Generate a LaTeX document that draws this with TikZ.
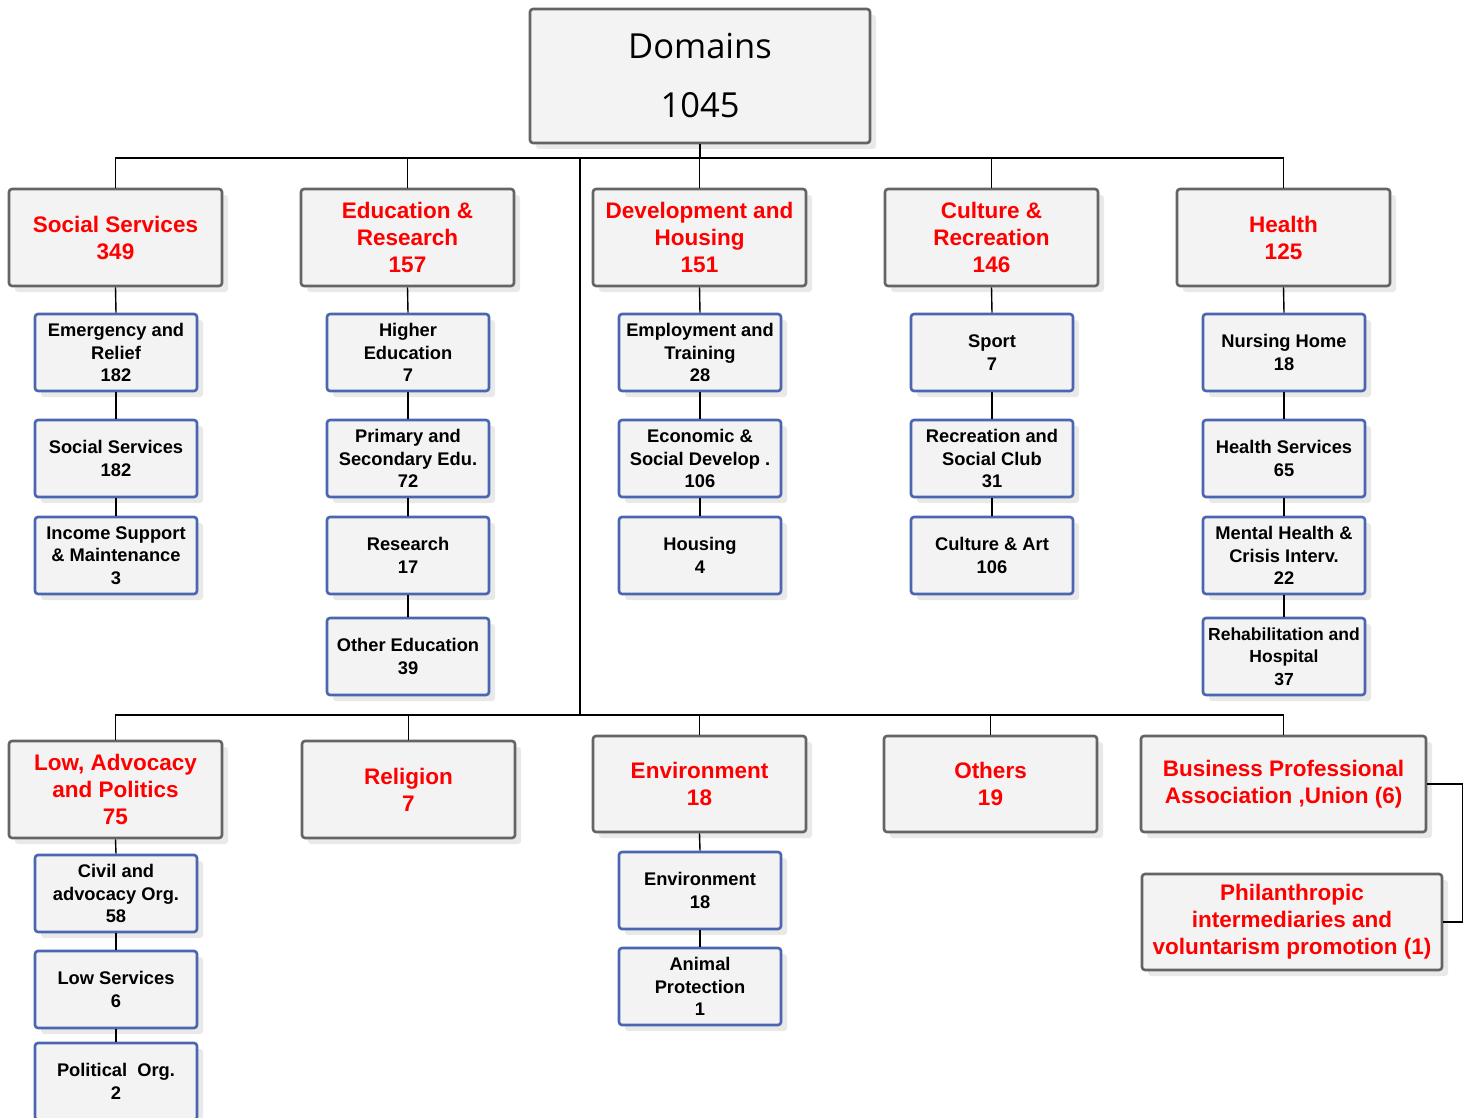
\documentclass[tikz,border=0pt]{standalone}
\usepackage{fontspec}
\setmainfont{Liberation Sans}
\newfontfamily\domfont{Open Sans}
\definecolor{catgray}{HTML}{646464}
\definecolor{subblue}{HTML}{4A66B0}
\definecolor{boxfill}{HTML}{F3F3F3}
\definecolor{shadowc}{HTML}{E9E9E9}
\definecolor{redtxt}{HTML}{FF0000}
\begin{document}
\begin{tikzpicture}[x=1pt,y=-1pt,
  basebox/.style={rectangle, rounded corners=3pt, fill=boxfill, line width=2.6pt, align=center, inner sep=1pt,
     preaction={fill=shadowc, rounded corners=3pt, draw=none, transform canvas={shift={(6pt,-6pt)}}}},
  catbox/.style={basebox, draw=catgray, text=redtxt, font=\bfseries\fontsize{22.5}{27}\selectfont,
     minimum width=213pt, minimum height=97pt},
  subbox/.style={basebox, draw=subblue, text=black, font=\bfseries\fontsize{18.3}{22.5}\selectfont,
     minimum width=162pt, minimum height=77pt},
  conn/.style={line width=1.4pt, black}]
\path[use as bounding box, clip] (0,0) rectangle (1470,1118);
\fill[white] (0,0) rectangle (1470,1118);

% root
\node[basebox, draw=catgray, minimum width=340pt, minimum height=134pt, font=\domfont\fontsize{34.5}{59}\selectfont] (root) at (700,76) {\raisebox{-2pt}{Domains}\\\raisebox{-2pt}{1045}};

% row 1 categories
\node[catbox] (ss) at (115.5,237.5) {Social Services\\349};
\node[catbox] (er) at (407.5,237.5) {Education \&\\Research\\157};
\node[catbox] (dh) at (699.5,237.5) {Development and\\Housing\\151};
\node[catbox] (cr) at (991.5,237.5) {Culture \&\\Recreation\\146};
\node[catbox] (he) at (1283.5,237.5) {Health\\125};

% social services children
\node[subbox] (ss1) at (116,352.5) {Emergency and\\Relief\\182};
\node[subbox] (ss2) at (116,458.5) {Social Services\\182};
\node[subbox] (ss3) at (116,555.5) {Income Support\\\& Maintenance\\3};
% education children
\node[subbox] (er1) at (408,352.5) {Higher\\Education\\7};
\node[subbox] (er2) at (408,458.5) {Primary and\\Secondary Edu.\\72};
\node[subbox] (er3) at (408,555.5) {Research\\17};
\node[subbox] (er4) at (408,656.5) {Other Education\\39};
% development children
\node[subbox] (dh1) at (700,352.5) {Employment and\\Training\\28};
\node[subbox] (dh2) at (700,458.5) {Economic \&\\Social Develop .\\106};
\node[subbox] (dh3) at (700,555.5) {Housing\\4};
% culture children
\node[subbox] (cr1) at (992,352.5) {Sport\\7};
\node[subbox] (cr2) at (992,458.5) {Recreation and\\Social Club\\31};
\node[subbox] (cr3) at (992,555.5) {Culture \& Art\\106};
% health children
\node[subbox] (he1) at (1284,352.5) {Nursing Home\\18};
\node[subbox] (he2) at (1284,458.5) {Health Services\\65};
\node[subbox] (he3) at (1284,555.5) {Mental Health \&\\Crisis Interv.\\22};
\node[subbox, font=\bfseries\fontsize{17.5}{22.5}\selectfont] (he4) at (1284,656.5) {Rehabilitation and\\Hospital\\37};

% row 2 categories
\node[catbox] (lap) at (115.5,789.5) {Low, Advocacy\\and Politics\\75};
\node[catbox] (rel) at (408.5,789.5) {Religion\\7};
\node[catbox, minimum height=96pt] (env) at (699.5,784) {Environment\\18};
\node[catbox, minimum height=96pt] (oth) at (990.5,784) {Others\\19};
\node[catbox, minimum height=96pt, minimum width=285pt] (bus) at (1283.5,784) {Business Professional\\Association ,Union (6)};
\node[catbox, minimum height=96pt, minimum width=300pt] (phi) at (1292,922) {Philanthropic\\intermediaries and\\voluntarism promotion (1)};

% row 2 children
\node[subbox] (lap1) at (116,893.5) {Civil and\\advocacy Org.\\58};
\node[subbox] (lap2) at (116,989.5) {Low Services\\6};
\node[subbox] (lap3) at (116,1081.5) {Political~ Org.\\2};
\node[subbox] (env1) at (700,890.5) {Environment\\18};
\node[subbox] (env2) at (700,986.5) {Animal\\Protection\\1};

% bus coordinates
\coordinate (b1) at (700,158);
\coordinate (m1) at (580,158);
\coordinate (m2) at (580,715);

% connectors
\draw[conn] (root.south) -- (b1);
\draw[conn] (ss.north) |- (b1) -| (he.north);
\draw[conn] (er.north) -- (er.north |- b1);
\draw[conn] (dh.north) -- (dh.north |- b1);
\draw[conn] (cr.north) -- (cr.north |- b1);
\draw[conn] (m1) -- (m2);
\draw[conn] (lap.north) |- (m2);
\draw[conn] (m2) -| (bus.north);
\draw[conn] (rel.north) -- (rel.north |- m2);
\draw[conn] (env.north) -- (env.north |- m2);
\draw[conn] (oth.north) -- (oth.north |- m2);
\draw[conn] (bus.east) -- ++(35,0) |- (phi.east);

\foreach \a/\b in {ss/ss1,ss1/ss2,ss2/ss3,er/er1,er1/er2,er2/er3,er3/er4,dh/dh1,dh1/dh2,dh2/dh3,
  cr/cr1,cr1/cr2,cr2/cr3,he/he1,he1/he2,he2/he3,he3/he4,lap/lap1,lap1/lap2,lap2/lap3,env/env1,env1/env2}
  \draw[conn] (\a.south) -- (\b.north);
\end{tikzpicture}
\end{document}
